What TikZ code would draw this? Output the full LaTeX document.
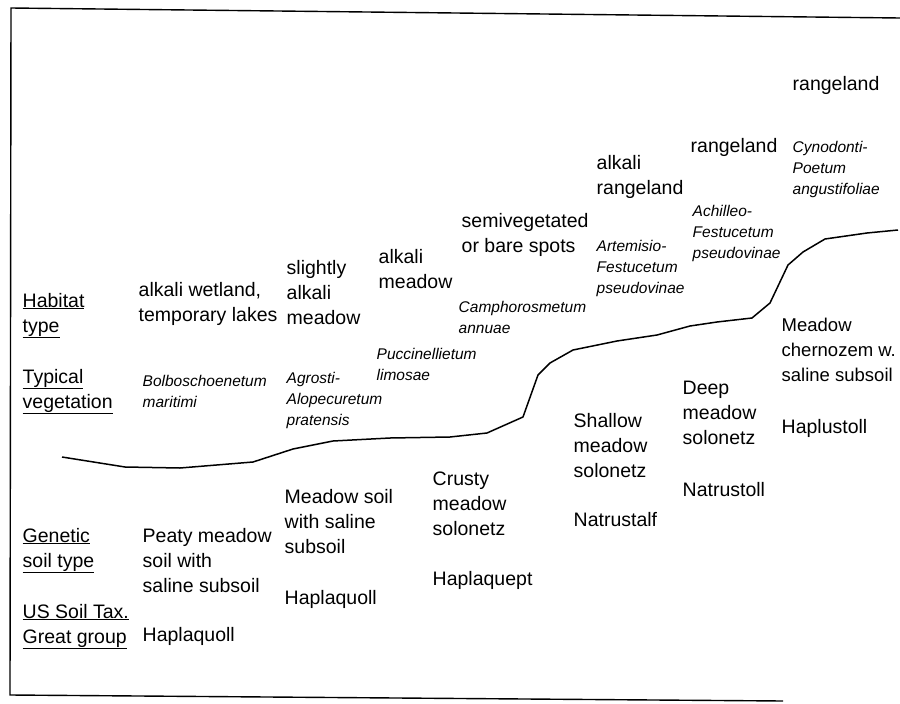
\documentclass[tikz,border=0pt]{standalone}
\usepackage{fontspec}
\setmainfont{Liberation Sans}
\usetikzlibrary{positioning}
\newcommand{\rowul}[1]{\underline{#1}}
\tikzset{
  % one pt per pixel of the scanned figure, y running downwards;
  % multi-line nodes are placed by the baseline of their last line
  every picture/.append style = {line width=1.4pt},
  txt/.style    = {anchor=base west, inner sep=0pt, align=left,
                   font=\fontsize{19.5}{25}\selectfont},
  veg/.style    = {anchor=base west, inner sep=0pt, align=left,
                   font=\fontsize{15.5}{21}\selectfont\itshape},
  rowlbl/.style = {txt},
  surface/.style = {line width=1.5pt, line join=round},
}

\begin{document}
\begin{tikzpicture}[x=1pt, y=-1pt]
\useasboundingbox (0,0) rectangle (900,704);

% ---- frame (open on the right) -------------------------------------------
\draw (900,18) -- (11,8) -- (10,695) -- (783,701);

% ---- row labels ----------------------------------------------------------
\node[rowlbl] (habitat) at (22,332) {\rowul{Habitat}\\\rowul{type}};
\node[rowlbl] (vegetation) at (22,408) {\rowul{Typical}\\\rowul{vegetation}};
\node[rowlbl] (soiltype) at (22,567) {\rowul{Genetic}\\\rowul{soil type}};
\node[rowlbl] (taxgroup) at (22,643) {\rowul{US Soil Tax.}\\\rowul{Great group}};

% ---- habitat types -------------------------------------------------------
\node[txt] (h1) at (138,321) {alkali wetland,\\temporary lakes};
\node[txt] (h2) at (286,324) {slightly\\alkali\\meadow};
\node[txt] (h3) at (378,288) {alkali\\meadow};
\node[txt] (h4) at (461,252) {semivegetated\\or bare spots};
\node[txt] (h5) at (596,194) {alkali\\rangeland};
\node[txt] (h6) at (690,152) {rangeland};
\node[txt] (h7) at (792,90)  {rangeland};

% ---- typical vegetation --------------------------------------------------
\node[veg] (v1) at (142,407) {Bolboschoenetum\\maritimi};
\node[veg] (v2) at (286,425) {Agrosti-\\Alopecuretum\\pratensis};
\node[veg] (v3) at (376,380) {Puccinellietum\\limosae};
\node[veg] (v4) at (458,333) {Camphorosmetum\\annuae};
\node[veg] (v5) at (596,293) {Artemisio-\\Festucetum\\pseudovinae};
\node[veg] (v6) at (692,258) {Achilleo-\\Festucetum\\pseudovinae};
\node[veg] (v7) at (792,194) {Cynodonti-\\Poetum\\angustifoliae};

% ---- soil surface --------------------------------------------------------
\draw[surface] (62,457) -- (125,467) -- (180,468) -- (253,462) -- (293,449)
  -- (333,441) -- (390,438) -- (450,437) -- (487,433) -- (523,417)
  -- (538,375) -- (550,363) -- (573,350) -- (617,341) -- (657,335)
  -- (690,326) -- (717,322) -- (752,318) -- (770,303) -- (788,265)
  -- (803,252) -- (825,239) -- (867,233) -- (898,230);

% ---- genetic soil types --------------------------------------------------
\node[txt] (s1) at (142,592) {Peaty meadow\\soil with\\saline subsoil};
\node[txt] (s2) at (284,553) {Meadow soil\\with saline\\subsoil};
\node[txt] (s3) at (432,535) {Crusty\\meadow\\solonetz};
\node[txt] (s4) at (573,477) {Shallow\\meadow\\solonetz};
\node[txt] (s5) at (682,444) {Deep\\meadow\\solonetz};
\node[txt, font=\fontsize{18.5}{25}\selectfont] (s6) at (781,381)
  {Meadow\\chernozem w.\\saline subsoil};

% ---- great groups --------------------------------------------------------
\node[txt] (g1) at (142,641) {Haplaquoll};
\node[txt] (g2) at (284,604) {Haplaquoll};
\node[txt] (g3) at (432,585) {Haplaquept};
\node[txt] (g4) at (573,526) {Natrustalf};
\node[txt] (g5) at (682,496) {Natrustoll};
\node[txt] (g6) at (781,433) {Haplustoll};
\end{tikzpicture}
\end{document}
